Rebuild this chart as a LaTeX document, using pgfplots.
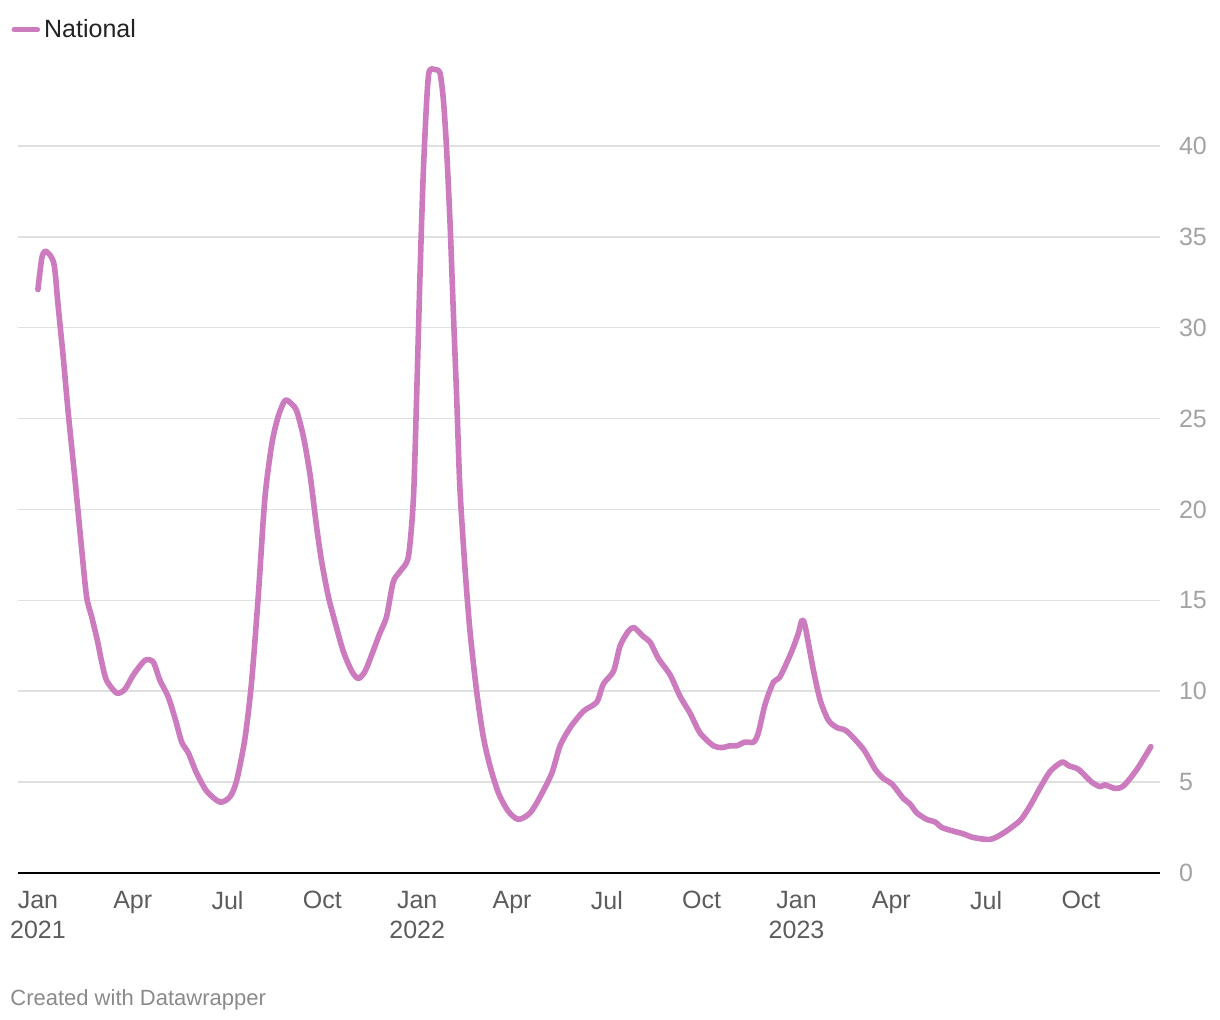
\documentclass[border=0pt]{standalone}
\usepackage{fontspec}
\setmainfont{Liberation Sans}
\usepackage{pgfplots}
\pgfplotsset{compat=1.18}
\definecolor{natLine}{HTML}{CB7BBE}
\definecolor{gridGray}{HTML}{E0E0E0}
\definecolor{yGray}{HTML}{A3A3A3}
\definecolor{xGray}{HTML}{5C5C5C}
\definecolor{footGray}{HTML}{8A8A8A}
\definecolor{legInk}{HTML}{222222}

% x = months since Jan 2021
\pgfplotstableread{
m y
0.00 32.1
0.12 33.8
0.22 34.2
0.38 34.0
0.52 33.4
0.64 31.2
0.80 28.4
0.96 25.3
1.17 21.7
1.38 17.9
1.54 15.2
1.70 14.1
1.88 12.8
2.02 11.6
2.17 10.6
2.49 9.9
2.75 10.1
3.02 10.9
3.39 11.7
3.65 11.6
3.86 10.6
4.12 9.7
4.34 8.5
4.55 7.2
4.76 6.6
5.02 5.5
5.34 4.5
5.76 3.9
6.08 4.2
6.29 5.1
6.55 7.4
6.76 10.5
6.97 15.2
7.18 20.6
7.40 23.6
7.60 25.1
7.82 26.0
8.03 25.8
8.19 25.4
8.40 24.0
8.61 21.9
8.82 19.0
8.98 17.1
9.19 15.2
9.40 13.8
9.66 12.2
9.93 11.1
10.14 10.7
10.35 11.1
10.56 12.0
10.82 13.2
11.03 14.1
11.24 16.0
11.46 16.6
11.72 17.4
11.88 20.6
11.98 26.1
12.09 33.0
12.19 38.4
12.30 42.5
12.38 44.1
12.56 44.2
12.72 44.0
12.83 42.5
12.93 39.8
13.04 35.7
13.14 31.0
13.25 26.1
13.35 21.2
13.51 16.8
13.67 13.3
13.88 10.0
14.09 7.5
14.30 5.9
14.57 4.4
14.88 3.4
15.20 2.95
15.57 3.3
15.89 4.2
16.26 5.5
16.52 7.0
16.84 8.0
17.26 8.9
17.68 9.4
17.89 10.4
18.21 11.1
18.42 12.5
18.68 13.3
18.86 13.5
19.16 13.0
19.37 12.7
19.63 11.8
20.00 10.9
20.32 9.7
20.63 8.8
20.95 7.7
21.37 7.0
21.64 6.9
21.90 7.0
22.11 7.0
22.37 7.2
22.64 7.2
22.79 7.7
23.01 9.3
23.27 10.5
23.48 10.8
23.85 12.2
24.06 13.2
24.17 13.9
24.27 13.6
24.53 11.2
24.75 9.5
25.01 8.4
25.28 8.0
25.59 7.8
26.12 6.8
26.49 5.7
26.75 5.2
27.02 4.9
27.38 4.1
27.59 3.8
27.81 3.3
28.12 2.95
28.39 2.8
28.60 2.5
28.97 2.3
29.28 2.15
29.60 1.95
30.13 1.85
30.55 2.2
31.08 2.9
31.39 3.7
31.71 4.7
32.03 5.6
32.40 6.1
32.61 5.9
32.92 5.7
33.34 5.0
33.61 4.75
33.76 4.85
34.08 4.65
34.35 4.8
34.77 5.7
35.21 6.95
}\national

\begin{document}
\begin{tikzpicture}
\path[use as bounding box] (-9pt,-73.5pt) rectangle (601pt,436.5pt);
\begin{axis}[
  scale only axis,
  width=571pt, height=409pt,
  xmin=-0.63, xmax=35.5,
  ymin=0, ymax=45,
  axis line style={draw=none},
  major tick length=0pt,
  clip=false,
  ytick={5,10,...,40},
  extra y ticks={0},
  extra y tick style={grid style={black, line width=1.1pt}},
  ymajorgrids,
  grid style={gridGray, line width=0.8pt},
  yticklabel pos=right,
  yticklabel style={anchor=west, xshift=6pt, font=\fontsize{12.5}{14}\selectfont, text=yGray},
  /pgf/number format/assume math mode=true,
  xtick={0,3,...,33},
  xticklabels={Jan\\2021,Apr,Jul,Oct,Jan\\2022,Apr,Jul,Oct,Jan\\2023,Apr,Jul,Oct},
  xticklabel style={align=center, anchor=north, yshift=-5.5pt,
    font=\fontsize{12.5}{15}\selectfont, text=xGray},
  legend style={draw=none, fill=none, at={(axis description cs:-0.006,1.031)},
    anchor=west, inner sep=0pt, font=\fontsize{12.5}{14}\selectfont, text=legInk,
    legend cell align=left},
  legend image code/.code={\draw[natLine, line width=2.8pt, line cap=round] (0pt,0pt) -- (11.5pt,0pt);},
]
\addplot[natLine, line width=2.8pt, smooth, tension=0.45, line join=round, line cap=round]
  table[x=m, y=y] {\national};
\addlegendentry{National}
\node[anchor=west, inner sep=0pt, font=\fontsize{11}{13}\selectfont, text=footGray]
  at (axis description cs:-0.007,-0.155) {Created with Datawrapper};
\end{axis}
\end{tikzpicture}
\end{document}
